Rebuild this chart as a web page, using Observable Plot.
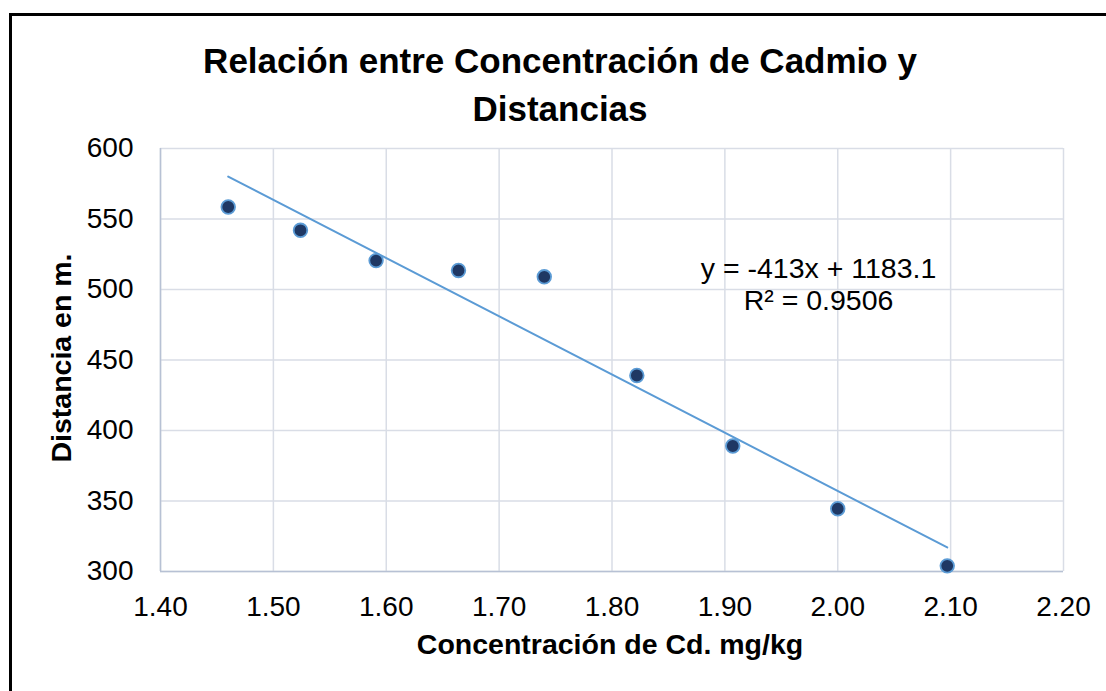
<!DOCTYPE html>
<html>
<head>
<meta charset="utf-8">
<script src="https://cdn.jsdelivr.net/npm/d3@7"></script>
<script src="https://cdn.jsdelivr.net/npm/@observablehq/plot@0.6"></script>
<style>
  body { margin: 0; background: #fff; font-family: "Liberation Sans", Arial, sans-serif; }
  #wrap { position: relative; width: 1106px; height: 691px; overflow: hidden; background: #fff; }
  #chart { position: absolute; left: 0; top: 0; }
  #frame { position: absolute; left: 9px; top: 13px; width: 1300px; height: 900px;
           border-left: 3px solid #000; border-top: 3px solid #000; pointer-events: none; }
  #title { position: absolute; left: 0; top: 37px; width: 1120px; text-align: center;
           font-weight: bold; font-size: 35px; line-height: 48px; color: #000; }
  #xlabel { position: absolute; left: 0; top: 628px; width: 1220px; text-align: center;
            font-weight: bold; font-size: 28.5px; line-height: 32px; color: #000; }
  #ylabel { position: absolute; left: 61px; top: 358px; transform: translate(-50%, -50%) rotate(-90deg);
            white-space: nowrap; font-weight: bold; font-size: 28.5px; line-height: 32px; color: #000; }
</style>
</head>
<body>
<div id="wrap">
  <div id="chart"></div>
  <div id="frame"></div>
  <div id="title">Relación entre Concentración de Cadmio y<br>Distancias</div>
  <div id="xlabel">Concentración de Cd. mg/kg</div>
  <div id="ylabel">Distancia en m.</div>
</div>
<script>
// Data
const concentracion = [1.460, 1.524, 1.591, 1.664, 1.740, 1.822, 1.907, 2.000, 2.097];
const distancia = [558.5, 542, 520.5, 513.5, 509, 439, 389, 344.5, 304];

// Trend line coefficients (as shown in the chart)
const pendiente = -413;
const intercepto = 1183.1;
const r2 = 0.9506;

// Axis ticks
const xTicks = [1.40, 1.50, 1.60, 1.70, 1.80, 1.90, 2.00, 2.10, 2.20];
const yTicks = [300, 350, 400, 450, 500, 550, 600];

const puntos = concentracion.map((c, i) => ({x: c, y: distancia[i]}));
const xMin = d3.min(concentracion), xMax = d3.max(concentracion);
const tendencia = [xMin, xMax].map(x => ({x, y: pendiente * x + intercepto}));
const ecuacion = [{x: 1.983, y: 503.8,
  text: `y = ${pendiente}x + ${intercepto}\nR² = ${r2}`}];

const plot = Plot.plot({
  width: 1106,
  height: 691,
  marginLeft: 160,
  marginRight: 43,
  marginTop: 148,
  marginBottom: 120,
  style: {fontFamily: "'Liberation Sans', Arial, sans-serif", fontSize: "28px", color: "#000", background: "transparent"},
  x: {domain: [1.40, 2.20], ticks: xTicks},
  y: {domain: [300, 600], ticks: yTicks},
  marks: [
    Plot.gridX(xTicks, {stroke: "#d9dde6", strokeOpacity: 1, strokeWidth: 1.5}),
    Plot.gridY(yTicks, {stroke: "#d9dde6", strokeOpacity: 1, strokeWidth: 1.5}),
    Plot.ruleX([1.40], {stroke: "#b7c1d4", strokeWidth: 1.5}),
    Plot.ruleY([300], {stroke: "#b7c1d4", strokeWidth: 1.5}),
    Plot.axisX(xTicks, {tickSize: 0, tickPadding: 25, tickFormat: d3.format(".2f"), label: null, fontSize: 28}),
    Plot.axisY(yTicks, {tickSize: 0, tickPadding: 27, tickFormat: d => String(d), label: null, fontSize: 28}),
    Plot.line(tendencia, {x: "x", y: "y", stroke: "#5b9bd5", strokeWidth: 2}),
    Plot.dot(puntos, {x: "x", y: "y", r: 6.8, fill: "#1f3864", stroke: "#5b9bd5", strokeWidth: 1.8}),
    Plot.text(ecuacion, {x: "x", y: "y", text: "text", fontSize: 28.5, lineHeight: 1.11,
      textAnchor: "middle", lineAnchor: "middle", fill: "#000"})
  ]
});
document.getElementById("chart").appendChild(plot);
</script>
</body>
</html>
